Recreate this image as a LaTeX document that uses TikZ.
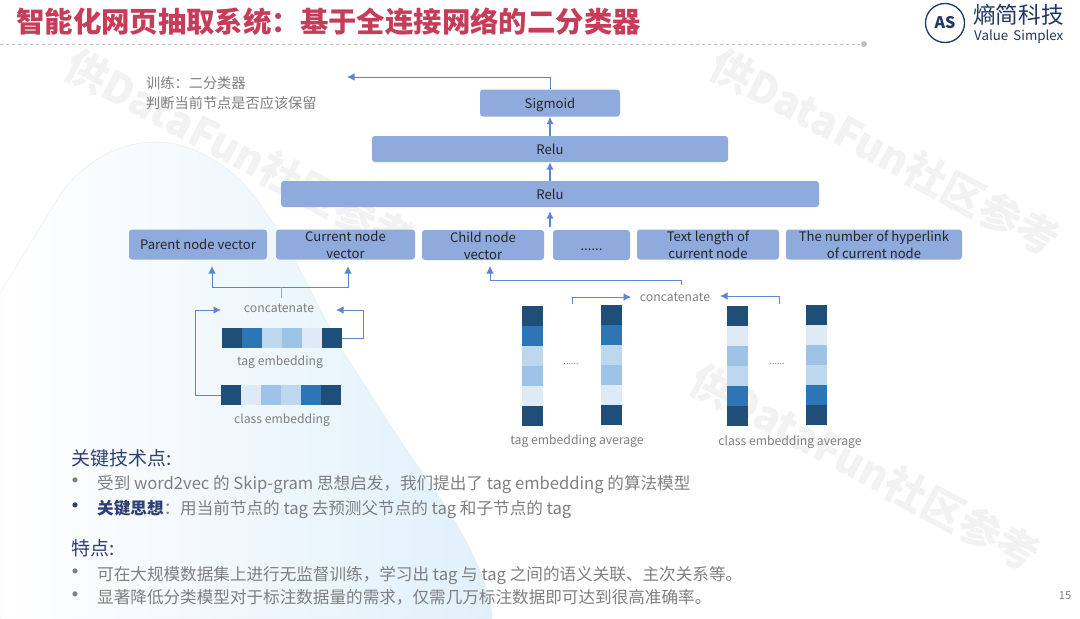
\documentclass[tikz,border=0pt]{standalone}
\usepackage{xcolor}
\usepackage{tikz}
\usepackage{fontspec}
\usetikzlibrary{positioning,shapes,arrows.meta,calc}
\setmainfont{Noto Sans CJK SC}
\definecolor{boxblue}{HTML}{8FAADC}
\definecolor{linkblue}{HTML}{5D86CF}
\definecolor{titlered}{HTML}{C63D59}
\definecolor{navy}{HTML}{1F3864}
\definecolor{headnavy}{HTML}{2F3F73}
\definecolor{bodygray}{HTML}{7F7F7F}
\definecolor{blobblue}{HTML}{E0F0FB}
\definecolor{cellA}{HTML}{1F4E79}
\definecolor{cellB}{HTML}{2E75B6}
\definecolor{cellC}{HTML}{BDD7EE}
\definecolor{cellD}{HTML}{9DC3E6}
\definecolor{cellE}{HTML}{DEEBF7}
\tikzset{
    nodebox/.style={fill=boxblue, rounded corners=3pt, inner sep=0pt, align=center, text=black!85, text height=10.5pt, text depth=0pt, font=\fontsize{13.1}{17}\selectfont},
    twolines/.style={text height=28pt, text depth=0pt},
    cell/.style={inner sep=0pt, outer sep=0pt, minimum width=20pt, minimum height=20pt},
    tallcell/.style={inner sep=0pt, outer sep=0pt, minimum width=21pt, minimum height=20pt},
    caption/.style={text=bodygray, inner sep=0pt, text height=9pt, text depth=0pt, font=\fontsize{12.2}{15}\selectfont},
    body/.style={text=bodygray, anchor=west, inner sep=0pt, text height=11pt, text depth=0pt, font=\fontsize{16.6}{18}\selectfont},
    head/.style={text=headnavy, anchor=west, inner sep=0pt, text height=13pt, text depth=0pt, font=\fontsize{19}{20}\selectfont},
    bullet/.style={text=bodygray, inner sep=0pt, font=\fontsize{24}{15}\selectfont},
    flow/.style={draw=linkblue, line width=0.9pt, -{Latex[length=7.5pt,width=7.5pt]}},
    thickflow/.style={draw=linkblue, line width=1.6pt, -{Latex[length=7.5pt,width=7.5pt]}},
    mark text/.style={rotate=-28, text=black!5, inner sep=0pt, font=\fontsize{42}{44}\bfseries\selectfont},
}
\begin{document}
\begin{tikzpicture}[x=1pt, y=-1pt]
    \useasboundingbox (0,0) rectangle (1080,619);
    \fill[white] (0,0) rectangle (1080,619);

    \node[mark text] (mark1) at (240,152) {供DataFun社区参考};
    \node[mark text] (mark2) at (885,152) {供DataFun社区参考};
    \node[mark text] (mark3) at (865,467) {供DataFun社区参考};

    \shade[left color=white, right color=blobblue, draw=black!8, line width=0.4pt]
        (0,293) -- (60,195) .. controls (85,160) and (120,142) .. (155,142)
        .. controls (190,142) and (218,160) .. (240,180)
        .. controls (262,202) and (280,235) .. (293,257)
        -- (340,347) -- (400,440) -- (448,510)
        .. controls (470,545) and (492,590) .. (492,619)
        -- (0,619) -- cycle;

    \node[anchor=west, inner sep=0pt, text=titlered, font=\fontsize{28.4}{30}\bfseries\selectfont] (title) at (16,22) {智能化网页抽取系统：基于全连接网络的二分类器};
    \draw[black!25, dashed, line width=0.6pt] (0,44) -- (860,44);
    \fill[black!25] (864,44) circle (3);

    \node[circle, draw=navy, line width=1.3pt, minimum size=39pt, inner sep=0pt, text=navy, font=\fontsize{16}{16}\bfseries\itshape\selectfont] (logo) at (945,23) {AS};
    \node[anchor=west, inner sep=0pt, text=navy, font=\fontsize{22.7}{24}\selectfont] (logotext) at (973,15) {熵简科技};
    \node[anchor=west, inner sep=0pt, text=navy, font=\fontsize{13.3}{14}\selectfont] (logosub) at (974,37) {Value\, Simplex};

    \node[anchor=north west, inner sep=0pt, text=bodygray, align=left, font=\fontsize{14.2}{20}\selectfont] (train) at (146,76) {训练：二分类器\\判断当前节点是否应该保留};

    \node[nodebox, minimum width=140pt, minimum height=27pt] (sigmoid) at (550,103) {Sigmoid};
    \node[nodebox, minimum width=356pt, minimum height=26pt] (relu1) at (550,149) {Relu};
    \node[nodebox, minimum width=538pt, minimum height=26pt] (relu2) at (550,194) {Relu};

    \node[nodebox, minimum width=138pt, minimum height=30pt] (parent) at (198,244.5) {Parent node vector};
    \node[nodebox, twolines, minimum width=139pt, minimum height=30pt] (current) at (345.5,244.5) {Current node\\vector};
    \node[nodebox, twolines, minimum width=122pt, minimum height=30pt] (child) at (483,245) {Child node\\vector};
    \node[nodebox, minimum width=77pt, minimum height=30pt] (more) at (591.5,245) {......};
    \node[nodebox, twolines, minimum width=142pt, minimum height=30pt] (textlen) at (708,244.5) {Text length of\\current node};
    \node[nodebox, twolines, minimum width=176pt, minimum height=30pt] (hyperlink) at (874,244.5) {The number of hyperlink\\of current node};

    \coordinate (trainend) at (347,77);
    \coordinate (rowtop) at (550,227);
    \draw[flow] (sigmoid.north) |- (trainend);
    \draw[thickflow] (relu1.north -| sigmoid) -- (sigmoid.south);
    \draw[thickflow] (relu2.north) -- (relu1.south);
    \draw[thickflow, shorten >=4pt] (rowtop) -- (relu2.south);

    \foreach \i/\c in {0/cellA,1/cellB,2/cellC,3/cellD,4/cellE,5/cellA} {
        \node[cell, fill=\c] (tag\i) at (232+\i*20,338) {};
    }
    \foreach \i/\c in {0/cellA,1/cellE,2/cellD,3/cellC,4/cellB,5/cellA} {
        \node[cell, fill=\c] (class\i) at (231+\i*20,395) {};
    }
    \node[caption] (leftcat) at (279,308) {concatenate};
    \node[caption] (tagcap) at (280,361) {tag embedding};
    \node[caption] (classcap) at (282,419) {class embedding};

    \coordinate (leftjoin) at (281,287);
    \coordinate (parentin) at (212,266);
    \coordinate (currentin) at (348,266);
    \coordinate (catleft) at (221,310);
    \coordinate (catright) at (336,310);
    \coordinate (classturn) at (195,395);
    \coordinate (tagturn) at (363,338);
    \draw[flow] (leftjoin) -| (parentin);
    \draw[flow] (leftjoin) -| (currentin);
    \draw[draw=linkblue!70, line width=0.9pt] (leftjoin |- 0,298) -- (leftjoin);
    \draw[flow] (class0.west) -- (classturn) |- (catleft);
    \draw[flow] (tag5.east) -- (tagturn) |- (catright);

    \foreach \i/\c in {0/cellA,1/cellB,2/cellC,3/cellD,4/cellE,5/cellA} {
        \node[tallcell, fill=\c] (avga\i) at (532.5,316+\i*20) {};
        \node[tallcell, fill=\c] (avgb\i) at (611.5,315+\i*19.9) {};
    }
    \foreach \i/\c in {0/cellA,1/cellE,2/cellD,3/cellC,4/cellB,5/cellA} {
        \node[tallcell, fill=\c] (avgc\i) at (737.5,316+\i*20) {};
        \node[tallcell, fill=\c] (avgd\i) at (816.5,315+\i*20) {};
    }
    \node[inner sep=0pt, text=bodygray, font=\fontsize{9}{10}\selectfont] (dotsa) at (571,364) {......};
    \node[inner sep=0pt, text=bodygray, font=\fontsize{9}{10}\selectfont] (dotsb) at (777,364) {......};
    \node[caption] (rightcat) at (675,297) {concatenate};
    \node[caption] (tagavg) at (577,440) {tag embedding average};
    \node[caption] (classavg) at (790,441) {class embedding average};

    \coordinate (childin) at (490,266);
    \coordinate (rightjoin) at (681,280);
    \coordinate (rightdrop) at (681,285);
    \coordinate (avgbfrom) at (572,304);
    \coordinate (avgcfrom) at (779,304);
    \coordinate (avgbto) at (631,297);
    \coordinate (avgcto) at (720,296);
    \draw[flow] (rightdrop) -- (rightjoin) -| (childin);
    \draw[flow] (avgbfrom) |- (avgbto);
    \draw[flow] (avgcfrom) |- (avgcto);

    \node[head] (keyhead) at (71,459) {关键技术点:};
    \node[bullet] (b1) at (75,484) {•};
    \node[body] (keyone) at (97,484) {受到 word2vec 的 Skip-gram 思想启发，我们提出了 tag embedding 的算法模型};
    \node[bullet, text=headnavy] (b2) at (75,509) {•};
    \node[body] (keytwo) at (97,509) {\textcolor{headnavy}{\bfseries 关键思想}：用当前节点的 tag 去预测父节点的 tag 和子节点的 tag};
    \node[head] (feathead) at (71,549) {特点:};
    \node[bullet] (b3) at (75,575) {•};
    \node[body] (featone) at (97,575) {可在大规模数据集上进行无监督训练，学习出 tag 与 tag 之间的语义关联、主次关系等。};
    \node[bullet] (b4) at (75,598) {•};
    \node[body] (feattwo) at (97,598) {显著降低分类模型对于标注数据量的需求，仅需几万标注数据即可达到很高准确率。};
    \node[inner sep=0pt, text=bodygray, font=\fontsize{11}{12}\selectfont] (pageno) at (1065,596) {15};
\end{tikzpicture}
\end{document}
